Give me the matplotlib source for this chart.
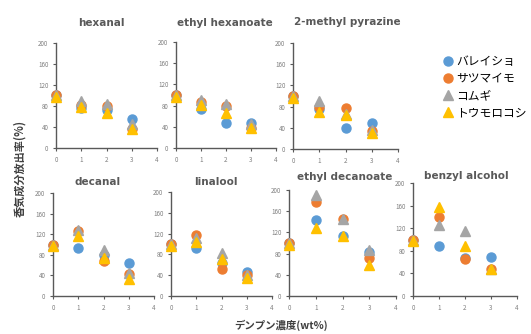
import matplotlib
matplotlib.use("Agg")
import matplotlib.pyplot as plt
from matplotlib.lines import Line2D

plt.rcParams['font.family'] = ['Noto Sans CJK JP', 'DejaVu Sans']

conc = [0, 1, 2, 3]
series_names = ["バレイショ", "サツマイモ", "コムギ", "トウモロコシ"]
titles = ["hexanal", "ethyl hexanoate", "2-methyl pyrazine",
          "decanal", "linalool", "ethyl decanoate", "benzyl alcohol"]

# values per compound: [バレイショ, サツマイモ, コムギ, トウモロコシ]
hexanal = [[100, 76, 72, 55], [100, 82, 80, 37], [100, 89, 83, 45], [97, 79, 67, 37]]
ethyl_hexanoate = [[100, 73, 48, 48], [100, 86, 80, 38], [100, 91, 83, 45], [97, 81, 66, 38]]
methyl_pyrazine = [[100, 76, 40, 50], [100, 80, 77, 34], [100, 90, 66, 36], [97, 70, 64, 31]]
decanal = [[100, 94, 80, 65], [100, 126, 68, 43], [100, 128, 90, 45], [97, 116, 74, 33]]
linalool = [[100, 93, 63, 47], [100, 118, 51, 40], [100, 112, 82, 40], [97, 104, 72, 34]]
ethyl_decanoate = [[100, 143, 113, 83], [100, 177, 145, 71], [100, 190, 145, 86], [97, 129, 114, 59]]
benzyl_alcohol = [[100, 89, 68, 69], [100, 139, 65, 47], [100, 126, 115, 47], [97, 158, 88, 47]]

data = [hexanal, ethyl_hexanoate, methyl_pyrazine, decanal, linalool,
        ethyl_decanoate, benzyl_alcohol]

colors = ["#5B9BD5", "#ED7D31", "#A5A5A5", "#FFC000"]
markers = ["o", "o", "^", "^"]

W, H = 531, 334
fig = plt.figure(figsize=(W / 100, H / 100), dpi=100)

# pixel boxes: left, right, top, bottom
boxes = [(56, 157, 43, 148), (176, 276, 42, 148), (293, 398, 43, 149),
         (53, 154, 193, 296), (171, 272, 192, 296), (289, 396, 190, 296),
         (413, 517, 183, 296)]
# title centre positions in pixels
title_pos = [(101, 23), (225, 23), (347, 22), (98, 182), (216, 182),
             (345, 177), (466, 176)]

for title, vals, (l, r, t, b), (tx, ty) in zip(titles, data, boxes, title_pos):
    ax = fig.add_axes([l / W, 1 - b / H, (r - l) / W, (b - t) / H])
    for k in range(4):
        ax.plot(conc, vals[k], linestyle="none", marker=markers[k],
                color=colors[k], markersize=6.5, clip_on=False, zorder=3)
    ax.set_xlim(0, 4)
    ax.set_ylim(0, 200)
    ax.set_xticks([0, 1, 2, 3, 4])
    ax.set_yticks([0, 40, 80, 120, 160, 200])
    for s in ["top", "right"]:
        ax.spines[s].set_visible(False)
    for s in ["left", "bottom"]:
        ax.spines[s].set_color("#595959")
        ax.spines[s].set_linewidth(1.0)
    ax.tick_params(labelsize=4.5, labelcolor="#7f7f7f", length=2.5,
                   width=0.8, color="#595959", pad=3)
    ax.set_facecolor("none")
    fig.text(tx / W, 1 - ty / H, title, fontsize=7.5, fontweight="bold",
             color="#595959", ha="center", va="center", family=["DejaVu Sans"])

handles = [Line2D([], [], linestyle="none", marker=markers[k], color=colors[k],
                  markersize=6.5) for k in range(4)]
fig.legend(handles, series_names, loc="upper left",
           bbox_to_anchor=(436 / W, 1 - 50 / H), frameon=False,
           fontsize=8.5, handletextpad=0.1, labelspacing=0.35,
           handlelength=1.2, borderaxespad=0)

fig.text(20 / W, 1 - 168 / H, "香気成分放出率(%)", rotation=90, ha="center",
         va="center", fontsize=8, fontweight="bold", color="#404040")
fig.text(281 / W, 1 - 325 / H, "デンプン濃度(wt%)", ha="center", va="center",
         fontsize=7.5, fontweight="bold", color="#404040")

fig.savefig("out.png", dpi=100)
